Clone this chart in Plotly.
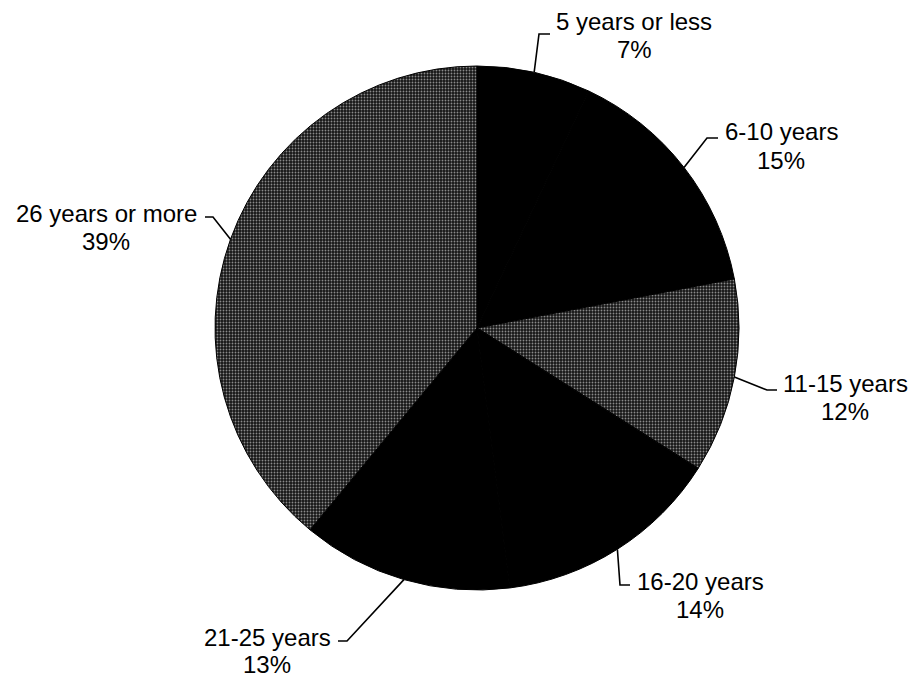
import math
import plotly.graph_objects as go

W, H = 915, 679

categories = ["5 years or less", "6-10 years", "11-15 years", "16-20 years", "21-25 years", "26 years or more"]
percent = [7, 15, 12, 14, 13, 39]
textured = [False, False, True, False, False, True]

# label placement (px): centre x, y of the name line, y of the percent line
label_pos = [(634, 22, 50), (781, 132, 160), (845, 383, 411),
             (700, 581, 609), (267, 637, 664), (106, 213, 241)]
# elbow of each leader line and the end of its short tail (px)
elbow = [((539, 34), (550, 34)), ((707, 138), (718, 138)), ((767, 390), (777, 390)),
         ((620, 585), (630, 585)), ((347, 641), (338, 641)), ((213, 217), (205, 217))]

# pie placement in pixels
cx, cy, R = 477, 328, 262

FONT = dict(family="Liberation Sans, Arial, sans-serif", size=24, color="black")


def px(x, y):
    return x / W, 1 - y / H


fig = go.Figure()
fig.add_trace(go.Pie(
    labels=categories,
    values=percent,
    sort=False,
    direction="clockwise",
    rotation=0,
    textinfo="none",
    hoverinfo="label+percent",
    showlegend=False,
    domain=dict(x=[(cx - R) / W, (cx + R) / W], y=[1 - (cy + R) / H, 1 - (cy - R) / H]),
    marker=dict(
        colors=["#161616" if t else "#000000" for t in textured],
        line=dict(width=1, color="#000000"),
        pattern=dict(
            shape=["." if t else "" for t in textured],
            fgcolor="#8a8a8a",
            bgcolor="#161616",
            size=3,
            solidity=0.3,
        ),
    ),
))

total = sum(percent)
cum = 0.0
for name, p, (lx, ly1, ly2), ((ex, ey), (tx, ty)) in zip(categories, percent, label_pos, elbow):
    mid = (cum + p / 2) / total * 2 * math.pi
    cum += p
    sx = cx + R * math.sin(mid)
    sy = cy - R * math.cos(mid)
    (x0, y0), (x1, y1), (x2, y2) = px(sx, sy), px(ex, ey), px(tx, ty)
    fig.add_shape(type="path", xref="paper", yref="paper",
                  path=f"M {x0} {y0} L {x1} {y1} L {x2} {y2}",
                  line=dict(color="black", width=1.6))
    for txt, yy in ((name, ly1), (f"{p}%", ly2)):
        ax, ay = px(lx, yy)
        fig.add_annotation(x=ax, y=ay, xref="paper", yref="paper",
                           text=txt, showarrow=False,
                           xanchor="center", yanchor="middle", font=FONT)

fig.update_layout(
    width=W, height=H,
    margin=dict(l=0, r=0, t=0, b=0),
    paper_bgcolor="white",
    plot_bgcolor="white",
)

fig.write_html("out.html")
